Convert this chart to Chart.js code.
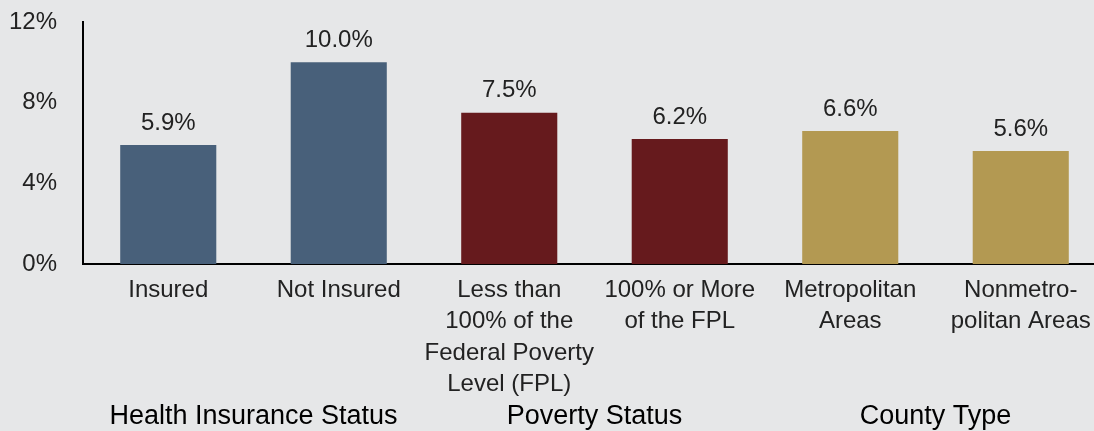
<!DOCTYPE html>
<html><head><meta charset="utf-8">
<script src="https://cdn.jsdelivr.net/npm/chart.js@4"></script>
<style>
html,body{margin:0;padding:0;background:#e6e7e8;overflow:hidden;}
#wrap{position:relative;width:1106px;height:431px;}
</style></head><body>
<div id="wrap"><canvas id="c"></canvas></div>
<script>
const categories = [
  ["Insured"],
  ["Not Insured"],
  ["Less than", "100% of the", "Federal Poverty", "Level (FPL)"],
  ["100% or More", "of the FPL"],
  ["Metropolitan", "Areas"],
  ["Nonmetro-", "politan Areas"]
];
const values = [5.9, 10.0, 7.5, 6.2, 6.6, 5.6];
const groups = ["Health Insurance Status", "Poverty Status", "County Type"];
const groupMembers = [[0,1],[2,3],[4,5]];
const barColors = ["#48607a","#48607a","#661a1d","#661a1d","#b39952","#b39952"];
const yTicks = [0, 4, 8, 12];

const FONT = "'Liberation Sans', Arial, sans-serif";

const labelPlugin = {
  id: 'labels',
  afterDatasetsDraw(chart) {
    const ctx = chart.ctx;
    const meta = chart.getDatasetMeta(0);
    ctx.save();
    ctx.font = "24px " + FONT;
    ctx.fillStyle = "#222";
    ctx.textAlign = "center";
    ctx.textBaseline = "bottom";
    meta.data.forEach((bar, i) => {
      ctx.fillText(values[i].toFixed(1) + "%", bar.x, bar.y - 10);
    });
    const xs = chart.scales.x;
    ctx.font = "27px " + FONT;
    ctx.fillStyle = "#000";
    ctx.textBaseline = "middle";
    groups.forEach((g, gi) => {
      const m = groupMembers[gi];
      const cx = (xs.getPixelForValue(m[0]) + xs.getPixelForValue(m[m.length-1])) / 2;
      ctx.fillText(g, cx, 417);
    });
    ctx.restore();
  }
};

new Chart(document.getElementById('c'), {
  type: 'bar',
  data: {
    labels: categories,
    datasets: [{ data: values, backgroundColor: barColors, barPercentage: 0.5635, categoryPercentage: 1 }]
  },
  options: {
    responsive: true,
    maintainAspectRatio: false,
    animation: false,
    layout: { padding: { top: 22, right: 0, bottom: 0, left: 0 } },
    plugins: { legend: { display: false }, tooltip: { enabled: false } },
    scales: {
      x: {
        grid: { display: false, drawTicks: false },
        border: { display: true, color: "#000", width: 2 },
        ticks: { color: "#222", font: { family: FONT, size: 24, lineHeight: 1.3 }, padding: 11, maxRotation: 0, autoSkip: false },
        afterFit(s) { s.height = 167; s.paddingLeft = 0; s.paddingRight = 0; }
      },
      y: {
        min: 0, max: 12,
        afterBuildTicks(s) { s.ticks = yTicks.map(v => ({ value: v })); },
        grid: { display: false, drawTicks: false },
        border: { display: true, color: "#000", width: 2 },
        ticks: { color: "#222", font: { family: FONT, size: 24 }, padding: 26, callback: v => v + "%" },
        afterFit(s) { s.width = 83; s.paddingTop = 0; s.paddingBottom = 0; }
      }
    }
  },
  plugins: [labelPlugin]
});
</script>
</body></html>
